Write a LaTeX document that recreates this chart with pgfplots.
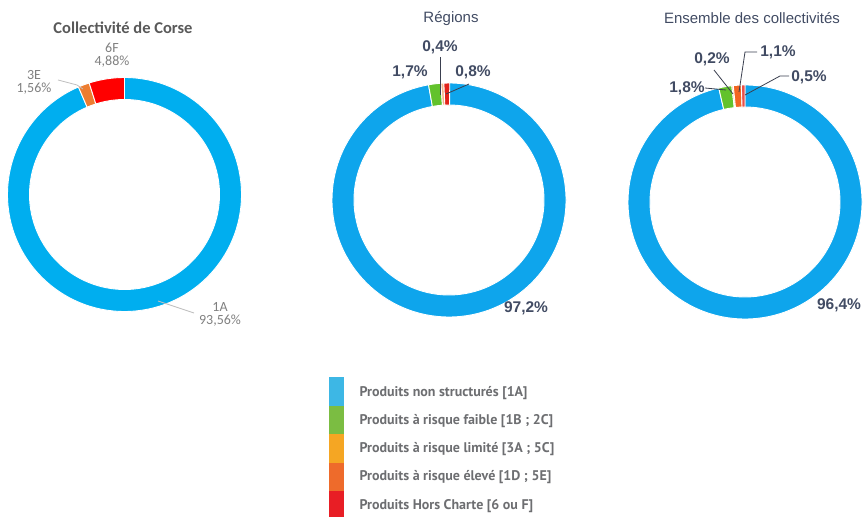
\documentclass[border=0pt]{standalone}
\usepackage{pgfplots}
\usepackage{pgfplotstable}
\pgfplotsset{compat=1.18}
\usepackage{fontspec}
\setmainfont{Liberation Sans}
\newfontfamily\calibri{Carlito}
\newfontfamily\ptsans{PT Sans}

% donut colours
\definecolor{cblue}{HTML}{00AEEF}
\definecolor{corange}{HTML}{ED7D31}
\definecolor{cred}{HTML}{FF0000}
\definecolor{rblue}{HTML}{0EA5EC}
\definecolor{rgreen}{HTML}{62C22C}
\definecolor{rpale}{HTML}{F3B58A}
\definecolor{rred}{HTML}{E2231A}
\definecolor{eorange}{HTML}{F26522}
\definecolor{ered}{HTML}{E8504A}
\definecolor{eyellow}{HTML}{F6B26B}
% legend colours
\definecolor{lblue}{HTML}{3DB7E5}
\definecolor{lgreen}{HTML}{7BBD42}
\definecolor{lyellow}{HTML}{F5A623}
\definecolor{lorange}{HTML}{EE6B2B}
\definecolor{lred}{HTML}{E81E25}
% text colours
\definecolor{slate}{HTML}{414B63}
\definecolor{titlegray}{HTML}{595959}
\definecolor{lblgray}{HTML}{808080}
\definecolor{leggray}{HTML}{6D6E71}
\definecolor{leader}{HTML}{3A3F4F}

% shares in %, clockwise from 12 o'clock
\pgfplotstableread{
val col
93.56 cblue
1.56 corange
4.88 cred
}\corse
\pgfplotstableread{
val col
97.2 rblue
1.7 rgreen
0.4 rpale
0.8 rred
}\regions
\pgfplotstableread{
val col
96.4 rblue
1.8 rgreen
0.2 eyellow
1.1 eorange
0.5 ered
}\ensemble

% #1 table, #2 outer radius (pt), #3 ring width (pt), #4 macro receiving the drawing code
\newcommand\builddonut[4]{%
  \gdef#4{}%
  \pgfplotstablegetrowsof{#1}%
  \pgfmathtruncatemacro\lastrow{\pgfplotsretval-1}%
  \pgfmathsetmacro\innerr{#2-#3}%
  \def\cumval{0}%
  \pgfplotsforeachungrouped \i in {0,...,\lastrow}{%
    \pgfplotstablegetelem{\i}{val}\of#1\let\sliceval\pgfplotsretval
    \pgfplotstablegetelem{\i}{col}\of#1\let\slicecol\pgfplotsretval
    \pgfmathsetmacro\angA{90-3.6*\cumval}%
    \pgfmathsetmacro\cumval{\cumval+\sliceval}%
    \pgfmathsetmacro\angB{90-3.6*\cumval}%
    \pgfmathsetmacro\angC{\angB+180}%
    \xdef#4{\unexpanded\expandafter{#4}%
      \noexpand\filldraw[fill=\slicecol, draw=white, line width=0.9pt]
        (axis cs:0,0) ++(\angA:#2pt) arc[start angle=\angA, end angle=\angB, radius=#2pt]
        -- ++(\angC:#3pt) arc[start angle=\angB, end angle=\angA, radius=\innerr pt]
        -- cycle;}%
  }%
}
\builddonut{\corse}{117}{22}{\corsedonut}
\builddonut{\regions}{117}{22}{\regionsdonut}
\builddonut{\ensemble}{117}{22}{\ensembledonut}

\pgfplotsset{donutaxis/.style={
  anchor=center, width=236pt, height=236pt, scale only axis, hide axis,
  xmin=-1, xmax=1, ymin=-1, ymax=1, clip=false}}

\begin{document}
\begin{tikzpicture}
\useasboundingbox (0,0) rectangle (866pt,516pt);

% centres in pixel terms: y measured from the top (516 - y)
\begin{axis}[donutaxis, at={(124.5pt,321.5pt)}]
\addplot[draw=none] coordinates {(0,0)};
\corsedonut
\end{axis}
\begin{axis}[donutaxis, at={(449pt,316pt)}]
\addplot[draw=none] coordinates {(0,0)};
\regionsdonut
\end{axis}
\begin{axis}[donutaxis, at={(745pt,314pt)}]
\addplot[draw=none] coordinates {(0,0)};
\ensembledonut
\end{axis}

\begin{scope}[x=1pt, y=-1pt, yshift=516pt]
% titles
\node[font=\calibri\bfseries\fontsize{16.5}{18}\selectfont, text=titlegray] at (123,28) {Collectivité de Corse};
\node[font=\fontsize{15}{17}\selectfont, text=slate] at (451,19) {Régions};
\node[font=\fontsize{15}{17}\selectfont, text=slate] at (752,18) {Ensemble des collectivités};

% Corse labels
\begin{scope}[font=\calibri\fontsize{14}{15}\selectfont, text=lblgray]
\node[align=center] at (112,55) {6F\\[-2pt]4,88\%};
\node[align=center] at (34,82) {3E\\[-2pt]1,56\%};
\node[align=center] at (220,314) {1A\\[-2pt]93,56\%};
\end{scope}
\draw[gray!50, line width=0.8pt] (58,80) -- (77,85) -- (83,89);
\draw[gray!50, line width=0.8pt] (158,301) -- (194,313);

% Régions labels
\begin{scope}[font=\bfseries\fontsize{15.5}{17}\selectfont, text=slate]
\node at (410,72) {1,7\%};
\node at (440,47) {0,4\%};
\node at (473,72) {0,8\%};
\node at (526,308) {97,2\%};
\end{scope}
\draw[leader, line width=0.8pt] (440,57) -- (440,95);
\draw[leader, line width=0.8pt] (469,84) -- (446,94);

% Ensemble labels
\begin{scope}[font=\bfseries\fontsize{15.5}{17}\selectfont, text=slate]
\node at (687,88) {1,8\%};
\node at (712,59) {0,2\%};
\node at (778,52) {1,1\%};
\node at (809,77) {0,5\%};
\node at (839,305) {96,4\%};
\end{scope}
\draw[leader, line width=0.8pt] (705,88) -- (726,90);
\draw[leader, line width=0.8pt] (714,70) -- (733,94);
\draw[leader, line width=0.8pt] (757,52) -- (745,52) -- (739,92);
\draw[leader, line width=0.8pt] (789,76) -- (780,76) -- (745,95);

% legend
\fill[lblue]   (329,377) rectangle (344,406);
\fill[lgreen]  (329,406) rectangle (344,434);
\fill[lyellow] (329,434) rectangle (344,463);
\fill[lorange] (329,463) rectangle (344,491);
\fill[lred]    (329,491) rectangle (344,520);
\begin{scope}[font=\ptsans\bfseries\fontsize{14}{16}\selectfont, text=leggray]
\node[anchor=west] at (356,393) {Produits non structurés [1A]};
\node[anchor=west] at (356,421) {Produits à risque faible [1B ; 2C]};
\node[anchor=west] at (356,449) {Produits à risque limité [3A ; 5C]};
\node[anchor=west] at (356,477) {Produits à risque élevé [1D ; 5E]};
\node[anchor=west] at (356,506) {Produits Hors Charte [6 ou F]};
\end{scope}
\end{scope}
\end{tikzpicture}
\end{document}
